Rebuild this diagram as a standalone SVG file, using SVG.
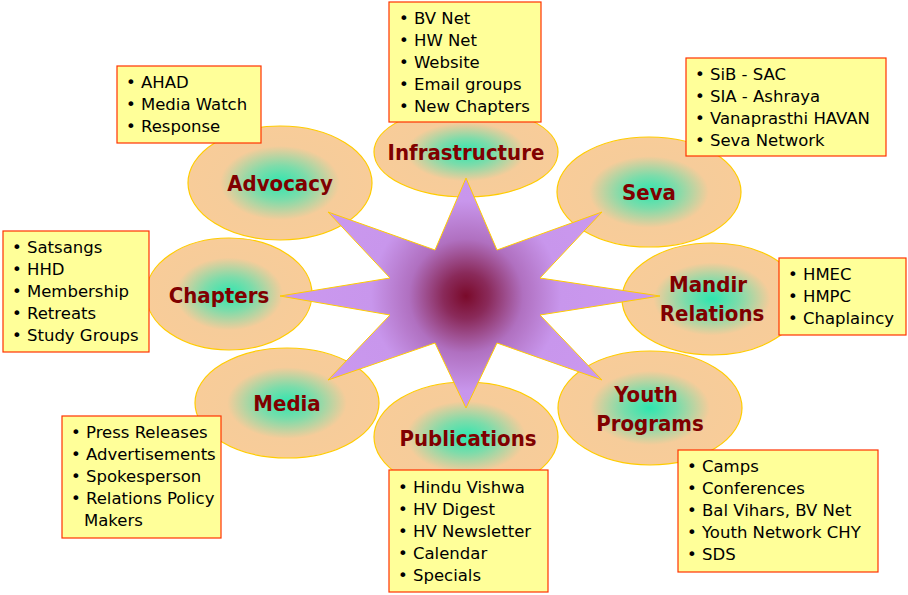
<svg xmlns="http://www.w3.org/2000/svg" width="908" height="595" viewBox="0 0 908 595">
<defs>
<radialGradient id="eg"><stop offset="0" stop-color="#2ee6b0"/><stop offset="0.3" stop-color="#7ddcaa"/><stop offset="0.65" stop-color="#f6cc9a"/><stop offset="1" stop-color="#f8cc99"/></radialGradient>
<radialGradient id="sg" cx="466" cy="296" r="190" gradientUnits="userSpaceOnUse"><stop offset="0" stop-color="#7a0a2a"/><stop offset="0.12" stop-color="#8a2a5a"/><stop offset="0.3" stop-color="#b070c0"/><stop offset="0.5" stop-color="#c896ec"/><stop offset="1" stop-color="#cc99f0"/></radialGradient>
<style>
.e{fill:url(#eg);stroke:#ffcc00;stroke-width:1.2}
.l{font-family:"DejaVu Sans Condensed","DejaVu Sans",Verdana,sans-serif;font-stretch:condensed;font-weight:bold;font-size:22px;fill:#800000;text-anchor:middle}
.b{fill:#ffff99;stroke:#ff3300;stroke-width:1.2}
.t{font-family:"DejaVu Sans",Verdana,sans-serif;font-size:16.5px;fill:#000}
</style>
</defs>
<g id="ellipses">
<g id="infrastructure"><ellipse class="e" cx="466" cy="152" rx="92" ry="45"/><text class="l" x="466" y="160">Infrastructure</text></g>
<g id="advocacy"><ellipse class="e" cx="280" cy="183" rx="92" ry="57"/><text class="l" x="280" y="191">Advocacy</text></g>
<g id="seva"><ellipse class="e" cx="649" cy="192" rx="92" ry="55"/><text class="l" x="649" y="200">Seva</text></g>
<g id="chapters"><ellipse class="e" cx="229" cy="294" rx="83" ry="56"/><text class="l" x="219" y="303">Chapters</text></g>
<g id="mandir"><ellipse class="e" cx="712" cy="299" rx="90" ry="56"/><text class="l" x="708" y="292">Mandir</text><text class="l" x="712" y="321">Relations</text></g>
<g id="media"><ellipse class="e" cx="287" cy="403" rx="92" ry="55"/><text class="l" x="287" y="411">Media</text></g>
<g id="youth"><ellipse class="e" cx="650" cy="408" rx="92" ry="57"/><text class="l" x="646" y="402">Youth</text><text class="l" x="650" y="431">Programs</text></g>
<g id="publications"><ellipse class="e" cx="466" cy="437" rx="92" ry="55"/><text class="l" x="468" y="446">Publications</text></g>
</g>
<g id="star"><polygon fill="url(#sg)" stroke="#ffcc00" stroke-width="1" points="466,178 497,250 602,212 540,278 660,296 540,315 602,380 497,343 466,408 435,343 328,380 390,315 280,296 390,278 328,212 435,250"/></g>
<g id="connectors"></g>
<g id="boxes">
<g id="box-infra"><rect class="b" x="389" y="2" width="152" height="120"/><text class="t"><tspan x="399" y="24">• BV Net</tspan><tspan x="399" y="46">• HW Net</tspan><tspan x="399" y="68">• Website</tspan><tspan x="399" y="90">• Email groups</tspan><tspan x="399" y="112">• New Chapters</tspan></text></g>
<g id="box-advocacy"><rect class="b" x="117" y="66" width="144" height="77"/><text class="t"><tspan x="126" y="88">• AHAD</tspan><tspan x="126" y="110">• Media Watch</tspan><tspan x="126" y="132">• Response</tspan></text></g>
<g id="box-seva"><rect class="b" x="686" y="58" width="200" height="98"/><text class="t"><tspan x="695" y="80">• SiB - SAC</tspan><tspan x="695" y="102">• SIA - Ashraya</tspan><tspan x="695" y="124">• Vanaprasthi HAVAN</tspan><tspan x="695" y="146">• Seva Network</tspan></text></g>
<g id="box-chapters"><rect class="b" x="3" y="231" width="146" height="121"/><text class="t"><tspan x="12" y="253">• Satsangs</tspan><tspan x="12" y="275">• HHD</tspan><tspan x="12" y="297">• Membership</tspan><tspan x="12" y="319">• Retreats</tspan><tspan x="12" y="341">• Study Groups</tspan></text></g>
<g id="box-mandir"><rect class="b" x="779" y="258" width="127" height="77"/><text class="t"><tspan x="788" y="280">• HMEC</tspan><tspan x="788" y="302">• HMPC</tspan><tspan x="788" y="324">• Chaplaincy</tspan></text></g>
<g id="box-media"><rect class="b" x="62" y="416" width="159" height="122"/><text class="t"><tspan x="71" y="438">• Press Releases</tspan><tspan x="71" y="460">• Advertisements</tspan><tspan x="71" y="482">• Spokesperson</tspan><tspan x="71" y="504">• Relations Policy</tspan><tspan x="84" y="526">Makers</tspan></text></g>
<g id="box-pub"><rect class="b" x="389" y="470" width="159" height="122"/><text class="t"><tspan x="398" y="493">• Hindu Vishwa</tspan><tspan x="398" y="515">• HV Digest</tspan><tspan x="398" y="537">• HV Newsletter</tspan><tspan x="398" y="559">• Calendar</tspan><tspan x="398" y="581">• Specials</tspan></text></g>
<g id="box-youth"><rect class="b" x="678" y="450" width="200" height="122"/><text class="t"><tspan x="687" y="472">• Camps</tspan><tspan x="687" y="494">• Conferences</tspan><tspan x="687" y="516">• Bal Vihars, BV Net</tspan><tspan x="687" y="538">• Youth Network CHY</tspan><tspan x="687" y="560">• SDS</tspan></text></g>
</g>
</svg>
